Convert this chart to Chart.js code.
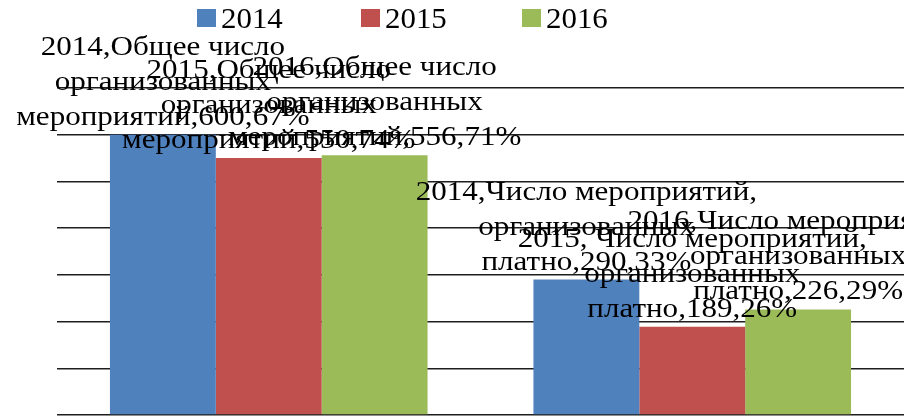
<!DOCTYPE html>
<html>
<head>
<meta charset="utf-8">
<script src="https://cdn.jsdelivr.net/npm/chart.js@4/dist/chart.umd.min.js"></script>
<style>
  html, body { margin: 0; padding: 0; background: #ffffff; }
  #wrap { width: 904px; height: 419px; position: relative; }
</style>
</head>
<body>
<div id="wrap"><canvas id="c"></canvas></div>
<script>
// ---- data ----
const categories = [
  ["Общее число", "организованных", "мероприятий"],
  ["Число мероприятий,", "организованных", "платно"]
];
const seriesNames = ["2014", "2015", "2016"];
const values2014 = [600, 290];
const values2015 = [550, 189];
const values2016 = [556, 226];
const percent2014 = [67, 33];
const percent2015 = [74, 26];
const percent2016 = [71, 29];
const yTicksMax = 700;
const yTicksStep = 100;

const colors = ["#4F81BD", "#C0504D", "#9BBB59"];
const seriesValues = [values2014, values2015, values2016];
const seriesPercents = [percent2014, percent2015, percent2016];

const labelFont = '27px "Liberation Serif", "Times New Roman", serif';
const labelScaleX = 1.15;
const labelLineH = 35;

const dataLabelsPlugin = {
  id: 'dataLabels',
  afterDatasetsDraw(chart) {
    const ctx = chart.ctx;
    ctx.save();
    ctx.font = labelFont;
    ctx.fillStyle = '#000';
    ctx.textAlign = 'center';
    ctx.textBaseline = 'alphabetic';
    chart.data.datasets.forEach((ds, di) => {
      const meta = chart.getDatasetMeta(di);
      meta.data.forEach((bar, i) => {
        const cat = categories[i];
        const sep = (di === 1 && i === 1) ? ", " : ",";
        const lines = [
          ds.label + sep + cat[0],
          cat[1],
          cat[2] + "," + ds.data[i] + "," + seriesPercents[di][i] + "%"
        ];
        const baseY = bar.y - 10;
        lines.forEach((ln, k) => {
          const y = baseY - (lines.length - 1 - k) * labelLineH;
          ctx.save();
          ctx.translate(bar.x, y);
          ctx.scale(labelScaleX, 1);
          ctx.fillText(ln, 0, 0);
          ctx.restore();
        });
      });
    });
    ctx.restore();
  }
};

const legendPlugin = {
  id: 'customLegend',
  afterDraw(chart) {
    const ctx = chart.ctx;
    const starts = [197, 361, 522];
    ctx.save();
    ctx.font = '30px "Liberation Serif", "Times New Roman", serif';
    ctx.textBaseline = 'alphabetic';
    chart.data.datasets.forEach((ds, di) => {
      const x = starts[di];
      ctx.fillStyle = ds.backgroundColor;
      ctx.fillRect(x, 9, 19, 18);
      ctx.fillStyle = '#000';
      ctx.save();
      ctx.translate(x + 24, 28);
      ctx.scale(1.03, 1);
      ctx.fillText(ds.label, 0, 0);
      ctx.restore();
    });
    ctx.restore();
  }
};

new Chart(document.getElementById('c'), {
  type: 'bar',
  data: {
    labels: categories.map(c => c.join(" ")),
    datasets: seriesNames.map((name, di) => ({
      label: name,
      data: seriesValues[di],
      backgroundColor: colors[di],
      borderWidth: 0,
      categoryPercentage: 0.75,
      barPercentage: 1.0
    }))
  },
  options: {
    responsive: true,
    maintainAspectRatio: false,
    animation: false,
    layout: { padding: { top: 88, left: 57, right: 0, bottom: 4 } },
    plugins: {
      legend: { display: false },
      tooltip: { enabled: false }
    },
    scales: {
      x: {
        ticks: { display: false },
        grid: { display: false, drawTicks: false },
        border: { display: false }
      },
      y: {
        min: 0,
        max: yTicksMax,
        ticks: { display: false, stepSize: yTicksStep },
        grid: { color: '#1e1e1e', lineWidth: 1.5, drawTicks: false },
        border: { display: false }
      }
    }
  },
  plugins: [dataLabelsPlugin, legendPlugin]
});
</script>
</body>
</html>
